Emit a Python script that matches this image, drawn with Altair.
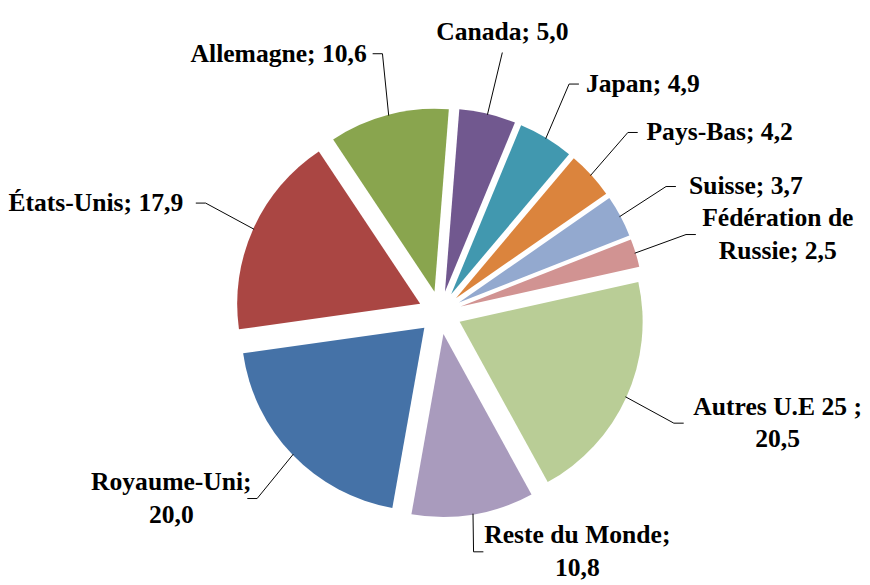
import textwrap
import altair as alt
import pandas as pd

# ---- data ----
pays = ["Canada", "Japan", "Pays-Bas", "Suisse", "Fédération de Russie",
        "Autres U.E 25 ", "Reste du Monde", "Royaume-Uni", "États-Unis", "Allemagne"]
parts = [5.0, 4.9, 4.2, 3.7, 2.5, 20.5, 10.8, 20.0, 17.9, 10.6]
couleurs = ["#71588F", "#4198AF", "#DB843D", "#93A9CF", "#D19392",
            "#B9CD96", "#A99BBD", "#4572A7", "#AA4643", "#89A54E"]

# ---- layout / style ----
CX, CY = 439, 305          # pie centre (px)
R = 186                    # slice radius
EXPLODE = 22               # explosion distance
RL = 272                   # label radius
YMAX = 548                 # keep labels inside the chart
START = 0.0785             # angle of first slice (rad)
FONT = "Times New Roman, Liberation Serif, DejaVu Serif, serif"
FS = 26
LH = 33
HALF_CHAR = 6.1
PAD = 4
ELBOW = 10


def fr(v):
    return f"{v:.1f}".replace(".", ",")


lignes = [textwrap.wrap(f"{p}; {fr(v)}", 16) for p, v in zip(pays, parts)]
df = pd.DataFrame({
    "pays": pays,
    "part": parts,
    "ordre": list(range(len(pays))),
    "label": ["\n".join(l) for l in lignes],
    "nchar": [max(len(s) for s in l) for l in lignes],
    "nlig": [len(l) for l in lignes],
})

base = (
    alt.Chart(df)
    .transform_joinaggregate(total="sum(part)")
    .transform_window(cum="sum(part)", sort=[alt.SortField("ordre", order="ascending")], frame=[None, 0])
    .transform_calculate(
        t1=f"{START} + 2*PI*datum.cum/datum.total",
        t0=f"{START} + 2*PI*(datum.cum - datum.part)/datum.total",
        mid="(datum.t0 + datum.t1)/2",
        cx=f"{CX} + {EXPLODE}*sin(datum.mid)",
        cy=f"{CY} - {EXPLODE}*cos(datum.mid)",
        ex=f"{CX} + {R + EXPLODE - 1}*sin(datum.mid)",
        ey=f"{CY} - {R + EXPLODE - 1}*cos(datum.mid)",
        side="(cos(datum.mid) > 0 && abs(sin(datum.mid)) < 0.245) ? 0 : (sin(datum.mid) >= 0 ? 1 : -1)",
        ax=f"{CX} + {RL}*sin(datum.mid)",
        ay=f"min({YMAX}, {CY} - {RL}*cos(datum.mid))",
        bx=f"datum.ax - datum.side*{ELBOW}",
        tx=f"datum.ax + datum.side*({PAD} + datum.nchar*{HALF_CHAR})",
        ty=f"datum.ay - (datum.nlig - 1)*{LH}/2 - (datum.side == 0 ? ({PAD} + datum.nlig*{LH}/2) : 0)",
    )
)

arcs = base.mark_arc(radius=R).encode(
    x=alt.X("cx:Q", scale=None),
    y=alt.Y("cy:Q", scale=None),
    theta=alt.Theta("t0:Q", scale=None, stack=None),
    theta2="t1:Q",
    color=alt.Color("pays:N", scale=alt.Scale(domain=pays, range=couleurs), legend=None),
)

leader = base.mark_rule(color="black", strokeWidth=1).encode(
    x=alt.X("ex:Q", scale=None),
    y=alt.Y("ey:Q", scale=None),
    x2="bx:Q",
    y2="ay:Q",
)

elbow = base.mark_rule(color="black", strokeWidth=1).encode(
    x=alt.X("bx:Q", scale=None),
    y=alt.Y("ay:Q", scale=None),
    x2="ax:Q",
    y2="ay:Q",
)

texts = base.mark_text(
    font=FONT, fontSize=FS, fontWeight="bold", color="black",
    align="center", baseline="middle", lineBreak="\n", lineHeight=LH,
).encode(
    x=alt.X("tx:Q", scale=None),
    y=alt.Y("ty:Q", scale=None),
    text="label:N",
)

chart = (
    alt.layer(arcs, leader, elbow, texts)
    .properties(width=854, height=569, padding=0, background="white")
    .configure_view(stroke=None)
)

chart.save("out.html", embed_options={"renderer": "svg", "actions": False})
